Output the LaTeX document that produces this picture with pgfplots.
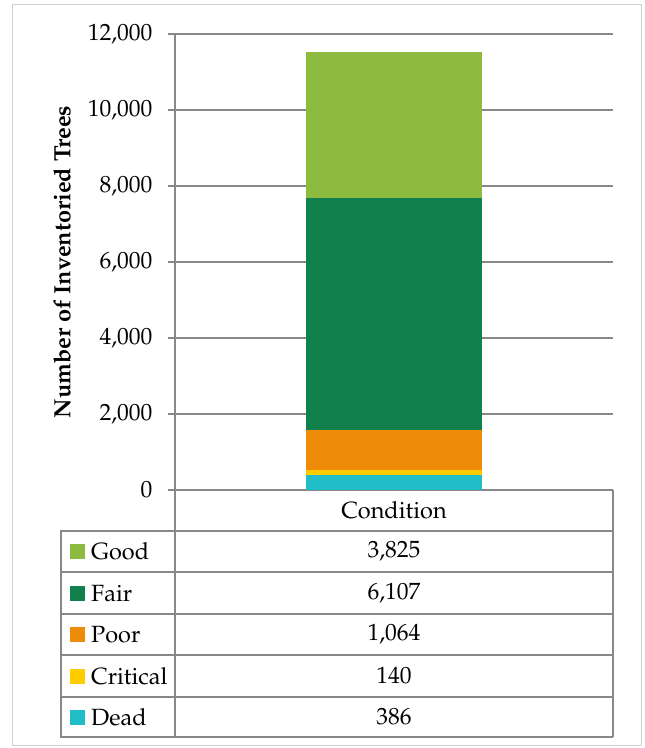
\documentclass[border=0pt]{standalone}
\usepackage[T1]{fontenc}
\usepackage{mathpazo}
\usepackage{pgfplots}
\pgfplotsset{compat=1.18}

\definecolor{cGood}{RGB}{141,187,63}
\definecolor{cFair}{RGB}{18,128,76}
\definecolor{cPoor}{RGB}{238,140,9}
\definecolor{cCritical}{RGB}{255,204,0}
\definecolor{cDead}{RGB}{33,190,200}
\definecolor{gridgray}{RGB}{136,136,136}
\definecolor{framegray}{RGB}{208,208,208}

\newcommand{\chartfont}{\fontsize{23.5}{27}\selectfont}

\begin{document}
\begin{tikzpicture}
% page area and outer frame
\path[use as bounding box] (0pt,0pt) rectangle (645pt,-748pt);
\draw[framegray, line width=1pt] (12pt,-4pt) rectangle (641pt,-745pt);

\begin{axis}[
  at={(175pt,-490pt)}, anchor=south west,
  scale only axis, width=438pt, height=456pt,
  xmin=0, xmax=1, ymin=0, ymax=12000,
  ybar stacked, bar width=176pt,
  xtick=\empty,
  ytick={0,2000,...,12000},
  scaled y ticks=false,
  ytick pos=left,
  ymajorgrids,
  major grid style={gridgray, line width=1.2pt},
  axis line style={draw=none},
  tick align=outside, major tick length=7pt,
  ytick style={gridgray, line width=1.2pt},
  yticklabel style={font=\chartfont, text=black, xshift=-12pt},
  /pgf/number format/fixed,
  /pgf/number format/1000 sep={,},
  /pgf/number format/assume math mode=true,
]
% stacked from the bottom: Dead, Critical, Poor, Fair, Good
\addplot[fill=cDead, draw=none] coordinates {(0.5,386)};
\addplot[fill=cCritical, draw=none] coordinates {(0.5,140)};
\addplot[fill=cPoor, draw=none] coordinates {(0.5,1064)};
\addplot[fill=cFair, draw=none] coordinates {(0.5,6107)};
\addplot[fill=cGood, draw=none] coordinates {(0.5,3825)};
\end{axis}

\begin{scope}[x=1pt, y=-1pt]
  % axis title
  \node[rotate=90, font=\bfseries\chartfont] at (62,262) {Number of Inventoried Trees};
  % y axis line running down through the data table
  \draw[gridgray, line width=1.2pt] (175,34) -- (175,737);
  % data table grid
  \draw[gridgray, line width=1.2pt] (613,490) -- (613,737);
  \draw[gridgray, line width=1.2pt] (175,531) -- (61,531) -- (61,737) -- (613,737);
  \foreach \yy in {531,572,614,655,697}
    \draw[gridgray, line width=1.2pt] (61,\yy) -- (613,\yy);
  % header
  \node[font=\chartfont] at (394,510.5) {Condition};
  % rows: legend key, series name, value
  \foreach \yc/\col/\name/\val in {551.5/cGood/Good/{3,825}, 593/cFair/Fair/{6,107},
      634.5/cPoor/Poor/{1,064}, 676/cCritical/Critical/140, 717/cDead/Dead/386} {
    \fill[\col] (70,\yc-7.5) rectangle (85,\yc+7.5);
    \node[font=\chartfont, anchor=west, inner sep=0pt] at (91,\yc) {\name};
    \node[font=\chartfont] at (394,\yc) {\val};
  }
\end{scope}
\end{tikzpicture}
\end{document}
